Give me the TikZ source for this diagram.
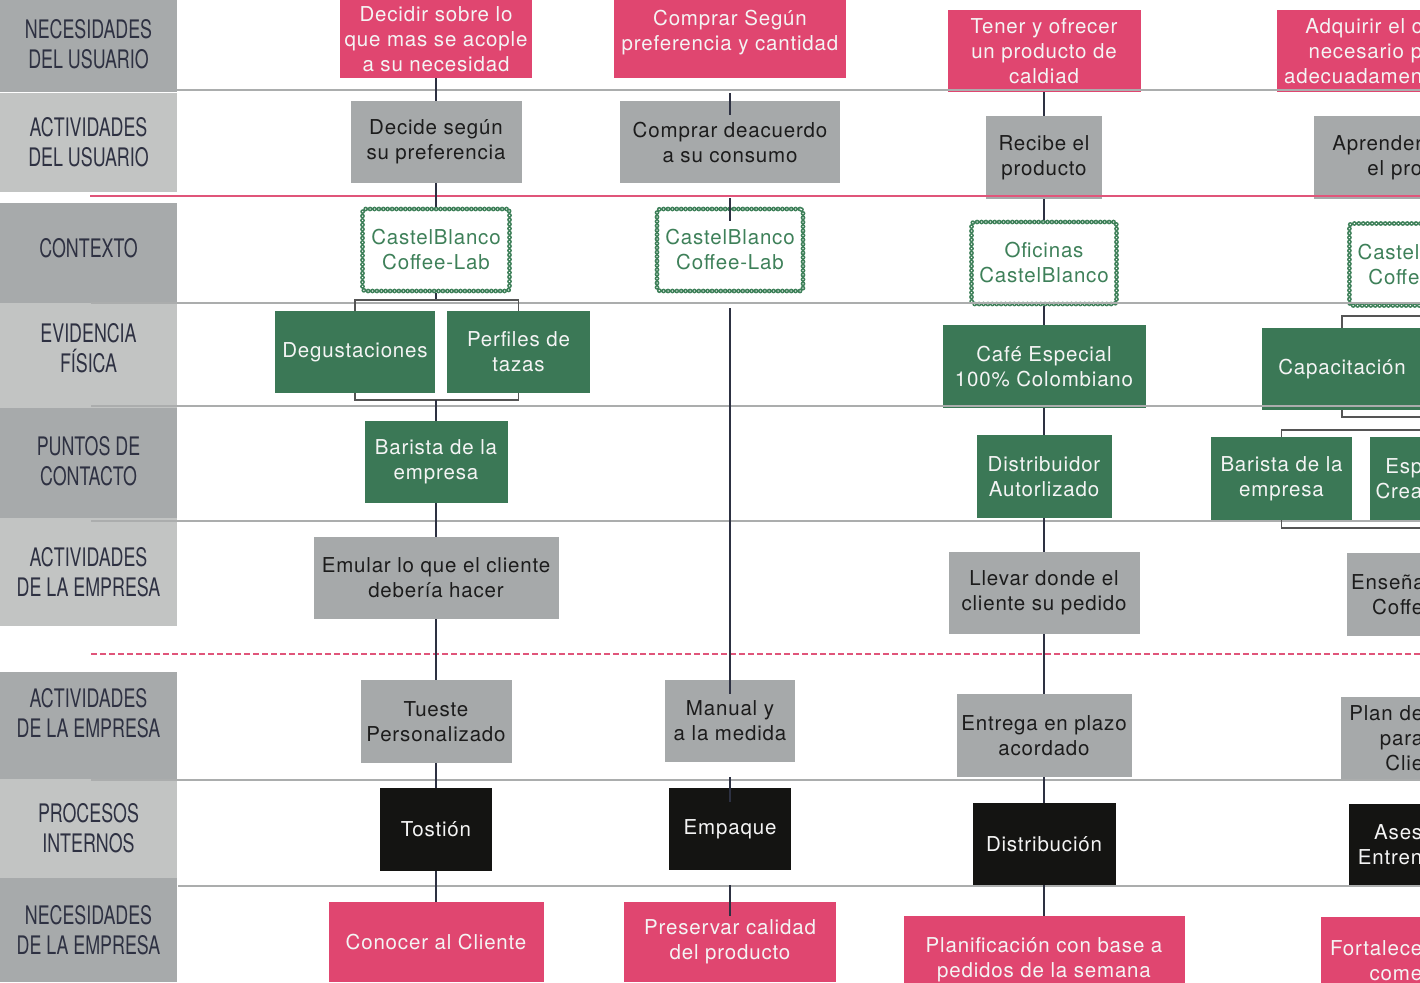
\documentclass[tikz,border=0pt]{standalone}
\usepackage{fontspec}
\setmainfont{TeX Gyre Heros}[LetterSpace=4]
\newfontfamily\lanefont{TeX Gyre Heros}[FakeStretch=0.7]
\definecolor{needpink}{HTML}{E04670}
\definecolor{actgray}{HTML}{A6A9AA}
\definecolor{evgreen}{HTML}{3B7856}
\definecolor{procblack}{HTML}{141412}
\definecolor{lanedark}{HTML}{A7AAAB}
\definecolor{lanelight}{HTML}{C2C4C3}
\definecolor{rowgray}{HTML}{ABADAD}
\definecolor{rowpink}{HTML}{E0557A}
\definecolor{linknavy}{HTML}{2D3142}
\definecolor{bracegray}{HTML}{555555}
\definecolor{ctxgreen}{HTML}{3E8059}
\definecolor{lanetext}{HTML}{2E3142}
\definecolor{boxwhite}{HTML}{F4F4F4}
\definecolor{boxblack}{HTML}{1C1C1C}
\begin{document}
\begin{tikzpicture}[x=1pt,y=1pt]
		\tikzstyle{every node}+=[inner sep=4pt, font=\fontsize{20.5}{25}\selectfont, align=center]
		\tikzstyle{cell}=[rectangle, minimum height=82pt]
		\tikzstyle{needbox}=[cell, fill=needpink, text=boxwhite]
		\tikzstyle{actbox}=[cell, fill=actgray, text=boxblack]
		\tikzstyle{evbox}=[cell, fill=evgreen, text=boxwhite]
		\tikzstyle{procbox}=[cell, fill=procblack, text=boxwhite]
		\tikzstyle{ctxbox}=[cell, text=ctxgreen, draw=ctxgreen, line width=4.8pt, dash pattern=on 0pt off 4.4pt, line cap=round, rounded corners=3pt, postaction={draw=white, line width=1.5pt, dash pattern=on 0pt off 4.4pt, line cap=round}]
		\tikzstyle{lane}=[rectangle, minimum width=177pt, inner sep=0pt, font=\lanefont\fontsize{25.5}{30}\selectfont, text=lanetext]
		\tikzstyle{lanedk}=[lane, fill=lanedark]
		\tikzstyle{lanelt}=[lane, fill=lanelight]
		\tikzstyle{rowline}=[draw=rowgray, line width=2pt]
		\tikzstyle{pinkline}=[draw=rowpink, line width=2pt]
		\tikzstyle{pinkdash}=[draw=rowpink, line width=1.5pt, dash pattern=on 6pt off 3pt]
		\tikzstyle{link}=[draw=linknavy, line width=1.8pt]
		\tikzstyle{stub}=[link, shorten <=15pt, shorten >=-14pt]
		\tikzstyle{brace}=[draw=bracegray, line width=1.8pt]
		\useasboundingbox (0,0) rectangle (1420,-982);
		\clip (0,0) rectangle (1420,-982);
		\node[lanedk, minimum height=92pt, text depth=4pt] (l1) at (88.5,-46) {NECESIDADES\\DEL USUARIO};
		\node[lanelt, minimum height=99pt] (l2) at (88.5,-142.5) {ACTIVIDADES\\DEL USUARIO};
		\node[lanedk, minimum height=100pt, text depth=10pt] (l3) at (88.5,-253) {CONTEXTO};
		\node[lanelt, minimum height=105pt, text depth=16pt] (l4) at (88.5,-355.5) {EVIDENCIA\\FÍSICA};
		\node[lanedk, minimum height=110pt, text depth=5pt] (l5) at (88.5,-463) {PUNTOS DE\\CONTACTO};
		\node[lanelt, minimum height=108pt] (l6) at (88.5,-572) {ACTIVIDADES\\DE LA EMPRESA};
		\node[lanedk, minimum height=107pt, text depth=25pt] (l7) at (88.5,-725.5) {ACTIVIDADES\\DE LA EMPRESA};
		\node[lanelt, minimum height=99pt] (l8) at (88.5,-828.5) {PROCESOS\\INTERNOS};
		\node[lanedk, minimum height=104pt] (l9) at (88.5,-930) {NECESIDADES\\DE LA EMPRESA};
		\node[needbox, minimum width=192pt, minimum height=78pt] (n1) at (436,-39) {Decidir sobre lo\\que mas se acople\\a su necesidad};
		\node[actbox, minimum width=171pt] (a1) at (436,-142) {Decide según\\su preferencia};
		\node[ctxbox, minimum width=147pt] (c1) at (436,-250) {CastelBlanco\\Coffee-Lab};
		\node[evbox, minimum width=160pt] (e1a) at (355,-352) {Degustaciones};
		\node[evbox, minimum width=143pt] (e1b) at (518.5,-352) {Perfiles de\\tazas};
		\node[evbox, minimum width=143pt] (p1) at (436,-462) {Barista de la\\empresa};
		\node[actbox, minimum width=245pt] (ae1) at (436,-578) {Emular lo que el cliente\\debería hacer};
		\node[actbox, minimum width=151pt, minimum height=83pt] (ai1) at (436,-721.5) {Tueste\\Personalizado};
		\node[procbox, minimum width=112pt, minimum height=83pt] (pi1) at (436,-829.5) {Tostión};
		\node[needbox, minimum width=215pt, minimum height=80pt] (ne1) at (436,-942) {Conocer al Cliente};
		\node[needbox, minimum width=232pt, minimum height=91pt] (n2) at (730,-32.5) {Comprar Según\\preferencia y cantidad};
		\node[actbox, minimum width=220pt] (a2) at (730,-142) {Comprar deacuerdo\\a su consumo};
		\node[ctxbox, minimum width=146pt] (c2) at (730,-250) {CastelBlanco\\Coffee-Lab};
		\node[actbox, minimum width=130pt] (ai2) at (730,-721) {Manual y\\a la medida};
		\node[procbox, minimum width=122pt] (pi2) at (730,-829) {Empaque};
		\node[needbox, minimum width=212pt, minimum height=80pt] (ne2) at (730,-942) {Preservar calidad\\del producto};
		\node[needbox, minimum width=193pt] (n3) at (1044,-51) {Tener y ofrecer\\un producto de\\caldiad};
		\node[actbox, minimum width=116pt, minimum height=83pt] (a3) at (1044,-157.5) {Recibe el\\producto};
		\node[ctxbox, minimum width=145pt] (c3) at (1044,-263) {Oficinas\\CastelBlanco};
		\node[evbox, minimum width=203pt, minimum height=83pt] (e3) at (1044,-366.5) {Café Especial\\100\% Colombiano};
		\node[evbox, minimum width=135pt, minimum height=83pt] (p3) at (1044,-476.5) {Distribuidor\\Autorlizado};
		\node[actbox, minimum width=191pt] (ae3) at (1044,-593) {Llevar donde el\\cliente su pedido};
		\node[actbox, minimum width=175pt, minimum height=83pt] (ai3) at (1044,-735.5) {Entrega en plazo\\acordado};
		\node[procbox, minimum width=143pt] (pi3) at (1044,-844) {Distribución};
		\node[needbox, minimum width=281pt, minimum height=87pt] (ne3) at (1044,-959.5) {Planificación con base a\\pedidos de la semana};
		\node[needbox, anchor=west, text width=141pt, align=right] (n4) at (1277,-51) {Adquirir el c\\necesario p\\adecuadamen};
		\node[actbox, anchor=west, minimum height=83pt, text width=104pt, align=right] (a4) at (1314,-157.5) {Aprender\hspace*{7pt}\\el pro};
		\node[ctxbox, anchor=west, text width=66pt, align=right] (c4) at (1347,-264.5) {Castel\\Coffe};
		\node[evbox, minimum width=160pt] (e4) at (1342,-369) {Capacitación};
		\node[evbox, minimum width=141pt, minimum height=83pt] (p4a) at (1281.5,-478.5) {Barista de la\\empresa};
		\node[evbox, anchor=west, minimum height=83pt, text width=48pt, align=right] (p4b) at (1370,-478.5) {Esp\\Crea};
		\node[actbox, anchor=west, minimum height=83pt, text width=72pt, align=right] (ae4) at (1347,-594.5) {Enseña\\Coffe};
		\node[actbox, anchor=west, minimum height=83pt, text width=78pt, align=right] (ai4) at (1341,-738.5) {Plan de\\para\\Clie};
		\node[procbox, anchor=west, text width=69pt, align=right] (pi4) at (1349,-845) {Ases\\Entren};
		\node[needbox, anchor=west, minimum height=87pt, text width=97pt, align=right] (ne4) at (1321,-960.5) {Fortalece\\come};
		\draw[rowline] (177,-90) -- (1420,-90);
		\draw[pinkline] (90,-195.5) -- (1420,-195.5);
		\draw[rowline] (91,-303) -- (1420,-303);
		\draw[rowline] (91,-405.5) -- (1420,-405.5);
		\draw[rowline] (91,-520.5) -- (1420,-520.5);
		\draw[pinkdash] (91,-654) -- (1420,-654);
		\draw[rowline] (91,-780) -- (1420,-780);
		\draw[rowline] (178,-886) -- (1420,-886);
		\coordinate (b1t) at (436,-300);
		\coordinate (b1b) at (436,-400);
		\coordinate (b4t) at (1440,-316);
		\coordinate (b4b) at (1440,-417);
		\coordinate (b5t) at (1440,-430);
		\coordinate (b5b) at (1440,-528);
		\draw[link] (n1.south) -- (a1.north);
		\draw[link] (a1.south) -- (c1.north);
		\draw[link] (c1.south) -- (b1t);
		\draw[brace] (e1a.north) |- (b1t) -| (e1b.north);
		\draw[brace] (e1a.south) |- (b1b) -| (e1b.south);
		\draw[link] (b1b) -- (p1.north);
		\draw[link] (p1.south) -- (ae1.north);
		\draw[link] (ae1.south) -- (ai1.north);
		\draw[link] (ai1.south) -- (pi1.north);
		\draw[link] (pi1.south) -- (ne1.north);
		\draw[stub] (n2.south) -- (a2.north);
		\draw[stub] (a2.south) -- (c2.north);
		\draw[stub] (c2.south) -- (ai2.north);
		\draw[stub] (ai2.south) -- (pi2.north);
		\draw[stub] (pi2.south) -- (ne2.north);
		\draw[link] (n3.south) -- (a3.north);
		\draw[link] (a3.south) -- (c3.north);
		\draw[link] (c3.south) -- (e3.north);
		\draw[link] (e3.south) -- (p3.north);
		\draw[link] (p3.south) -- (ae3.north);
		\draw[link] (ae3.south) -- (ai3.north);
		\draw[link] (ai3.south) -- (pi3.north);
		\draw[link] (pi3.south) -- (ne3.north);
		\draw[brace] (e4.north) |- (b4t);
		\draw[brace] (e4.south) |- (b4b);
		\draw[brace] (p4a.north) |- (b5t);
		\draw[brace] (p4a.south) |- (b5b);
	\end{tikzpicture}
\end{document}
